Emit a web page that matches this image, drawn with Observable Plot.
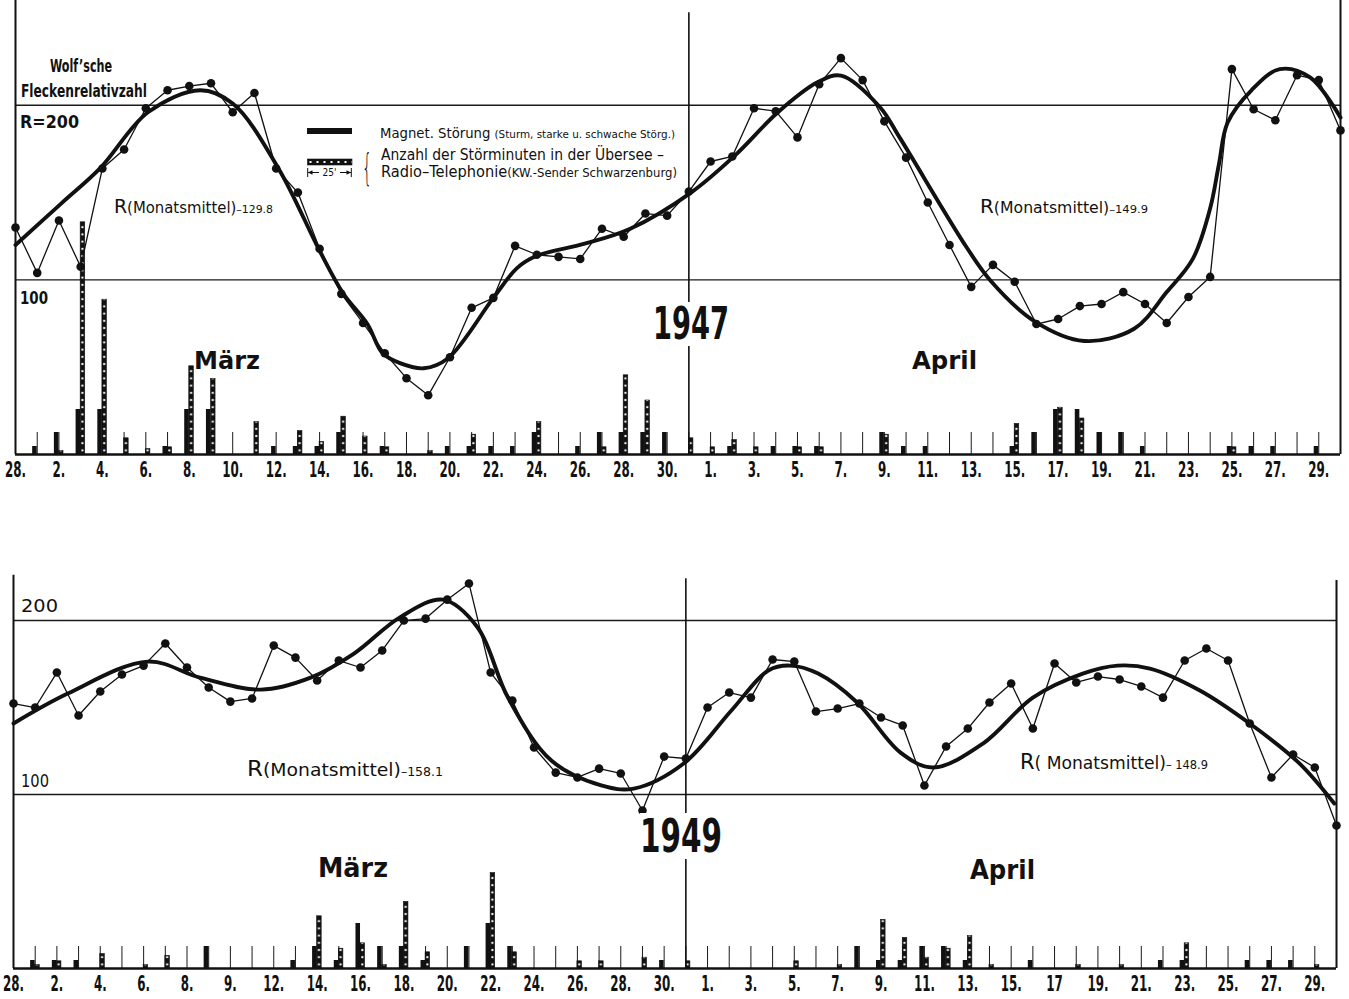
<!DOCTYPE html>
<html>
<head>
<meta charset="utf-8">
<script src="https://cdn.jsdelivr.net/npm/d3@7"></script>
<script src="https://cdn.jsdelivr.net/npm/@observablehq/plot@0.6"></script>
<style>
  html, body { margin:0; padding:0; background:#fff; }
  #page { position:relative; width:1349px; height:999px; overflow:hidden; background:#fff; color:#111;
          font-family:"DejaVu Sans Condensed","DejaVu Sans",sans-serif; }
  #page > svg { position:absolute; left:0; }
  .t { position:absolute; white-space:nowrap; line-height:1; transform-origin:0 0; color:#111; }
</style>
</head>
<body>
<div id="page"></div>
<script>
// ---------------- DATA ----------------
// day index: 0 = 28. Feb, 1..31 = 1..31 März, 32..61 = 1..30 April
const tickDays = [0,2,4,6,8,10,12,14,16,18,20,22,24,26,28,30,32,34,36,38,40,42,44,46,48,50,52,54,56,58,60];
const tickLabels1947 = ["28.","2.","4.","6.","8.","10.","12.","14.","16.","18.","20.","22.","24.","26.","28.","30.",
  "1.","3.","5.","7.","9.","11.","13.","15.","17.","19.","21.","23.","25.","27.","29."];
const tickLabels1949 = ["28.","2.","4.","6.","8.","9.","12.","14.","16.","18.","20.","22.","24.","26.","28.","30.",
  "1.","3.","5.","7.","9.","11.","13.","15.","17","19.","21.","23.","25.","27.","29."];

// Wolf'sche Fleckenrelativzahl, daily values 1947
const r1947 = [130,104,134,107.5,163.8,174.7,198.3,208.6,211,212.6,
  196,207,163.8,150,117.8,92,75.3,58,43.7,33.9,
  55.7,84,89.7,119.5,114.4,113.2,112,129.3,124.7,138,
  136.8,150.6,167.8,170.7,198.3,196.6,181.6,212,227,214.4,
  190.8,170,144.3,120,96,108.6,98.9,74.7,77.6,85,
  86.2,93,86.2,75.3,90.2,101.7,220.7,197.7,191.4,217.2,
  214.4,185.6];
// smoothed curve 1947 (read points)
const smoothDay1947 = [0,2.1,3.9,6.1,8.5,10.0,12.1,14.0,15.1,16.2,16.9,17.7,18.8,19.9,22.0,23.1,24.0,26.2,28.3,31.1,
  33.1,35.1,36.9,38.0,39.8,40.7,43.8,44.9,46.9,49.2,51.5,53.0,54.2,55.0,55.4,55.8,56.9,58.2,59.6,61];
const smoothR1947 = [120,143.7,164,196,208.6,201,164,116.7,92,74.7,58,52.3,49.4,55,89.7,106.9,113.8,120.7,129.3,150,
  171,196,213,217,198.9,181.6,118.4,99.4,76.4,65,72,93,112,141,166,190,208.6,220.7,216,193];
// magnetic disturbance: 0 none, 1 schwach, 2 stark, 3 Sturm
const mag1947 = [0,1,2,3,3,0,0,1,3,3, 0,0,1,1,1,2,0,1,0,0, 1,1,1,1,2,0,1,2,2,2,
  2,0,0,1,0,1,1,1,0,0, 2,1,1,0,0,0,1,2,3,3, 2,2,1,0,0,0,1,1,1,0, 1,0];
// Störminuten Übersee-Radio-Telephonie
const min1947 = [0,0,2,129,86,9,3,4,49,42, 0,18,0,13,7,21,10,4,0,2, 0,11,0,0,18,0,0,4,44,30,
  0,9,4,8,4,0,4,4,0,0, 11,0,0,0,0,0,17,0,26,20, 0,0,0,0,0,0,4,0,0,0, 0,0];

const r1949 = [152.3,150,170.1,145.4,159.2,169,174.1,186.8,173,161.5,
  153.4,155.2,185.6,178.7,165.5,177,173,182.8,200,201.1,
  212,221.3,170.1,154,127,112.6,109.8,114.9,112.1,90.8,
  121.8,120.7,150,158.6,155.7,177.6,176.4,147.7,149.4,152.3,
  144.3,139.7,105.2,127.6,137.9,152.9,163.8,137.9,175.3,164.4,
  167.8,166.1,162.1,155.7,177,183.9,177,140.8,109.8,123,
  115.5,82.2];
const smoothDay1949 = [0,2.5,6.2,8.6,11.4,13.7,15.7,17.8,19.8,21.4,22.8,24.8,27.1,28.6,30.9,33.1,34.8,35.8,37.1,38.9,
  40.9,42.4,44.7,47.0,49.3,50.9,52.4,54.7,57.0,59.3,60.9];
const smoothR1949 = [140.8,158,176.4,167.2,160.3,167.2,181,201.7,212,196,155.7,119.5,105.2,103.4,117.8,148.3,171.3,174.1,169.5,152.9,
  124.1,115.5,129.3,155.7,169.5,174.1,172.4,159.8,140.8,117.8,94.8];
const mag1949 = [0,1,1,1,0,0,0,0,0,2, 0,0,0,1,2,1,3,2,2,1, 0,2,3,2,0,0,0,0,0,0,
  1,0,0,0,0,0,0,0,0,2, 1,1,2,2,1,0,0,1,0,0, 0,0,0,1,1,0,0,1,1,1, 0,0];
const min1949 = [0,2,4,0,8,0,2,7,0,0, 0,0,0,0,29,11,14,2,37,9, 0,0,53,9,0,0,4,4,0,6,
  0,4,0,0,0,0,4,0,2,0, 27,17,6,11,18,2,0,0,0,2, 0,2,0,0,14,0,0,0,0,0, 2,0];

// ---------------- DRAWING ----------------
const page = document.getElementById("page");
const FONT = "DejaVu Sans Condensed, DejaVu Sans, sans-serif";
const magPx = [0, 8, 22, 45];     // bar heights for disturbance levels
const pxPerMinute = 1.8;          // 25' = 45 px
const tickPx = 22;
const bw = 0.21;                  // bar width in days
const NS = "http://www.w3.org/2000/svg";

function panel(o) {
  const days = o.r.map((v, i) => i);
  const rData = o.r.map((v, i) => ({day: i, r: v}));
  const sData = o.sDay.map((d, i) => ({day: d, r: o.sR[i]}));
  const magData = o.mag.map((v, i) => ({day: i, level: v})).filter(d => d.level > 0);
  const minData = o.min.map((v, i) => ({day: i, min: v})).filter(d => d.min > 0);
  const ppu = (o.height - o.mb) / o.ymax;
  const svg = Plot.plot({
    width: 1349, height: o.height,
    marginLeft: o.ml, marginRight: o.mr, marginTop: 0, marginBottom: o.mb,
    x: {domain: [0, 61]},
    y: {domain: [0, o.ymax], axis: null},
    style: {fontFamily: FONT, background: "transparent", color: "#111", overflow: "visible"},
    marks: [
      Plot.ruleY([100, 200], {x1: 0, x2: 61, stroke: "#1a1a1a", strokeWidth: 1.4}),
      Plot.ruleX(days, {y1: 0, y2: tickPx / ppu, stroke: "#1a1a1a", strokeWidth: 1}),
      Plot.rect(magData, {x1: d => d.day - bw, x2: d => d.day, y1: 0, y2: d => magPx[d.level] / ppu, fill: "#111"}),
      Plot.rect(minData, {x1: d => d.day, x2: d => d.day + bw, y1: 0, y2: d => d.min * pxPerMinute / ppu,
        fill: `url(#${o.id})`, stroke: "#111", strokeWidth: 0.6}),
      Plot.ruleX([0], {y1: 0, y2: o.leftTop, stroke: "#111", strokeWidth: 2}),
      Plot.ruleX([61], {y1: 0, y2: o.rightTop, stroke: "#111", strokeWidth: 2}),
      Plot.ruleX([31], {y1: 0, y2: o.divTop, stroke: "#111", strokeWidth: 1.6}),
      Plot.ruleY([0], {x1: 0, x2: 61, stroke: "#111", strokeWidth: 2.6}),
      Plot.line(sData, {x: "day", y: "r", curve: "catmull-rom", stroke: "#111", strokeWidth: 3.9}),
      Plot.line(rData, {x: "day", y: "r", stroke: "#111", strokeWidth: 1.3}),
      Plot.dot(rData, {x: "day", y: "r", r: 4.3, fill: "#111", stroke: "none"}),
      Plot.axisX(tickDays, {tickFormat: d => o.labels[tickDays.indexOf(d)], tickSize: 0, tickPadding: 8,
        fontSize: 21, fontWeight: "bold", label: null})
    ]
  });
  svg.style.top = o.top + "px";
  // dotted pattern for Störminuten bars
  const xs = svg.scale("x"), ys = svg.scale("y");
  const x0 = xs.apply(0), tw = xs.apply(1) - x0, y0 = ys.apply(0);
  const defs = document.createElementNS(NS, "defs");
  const pat = document.createElementNS(NS, "pattern");
  pat.setAttribute("id", o.id);
  pat.setAttribute("patternUnits", "userSpaceOnUse");
  pat.setAttribute("x", x0); pat.setAttribute("y", y0);
  pat.setAttribute("width", tw); pat.setAttribute("height", 7.2);
  const bg = document.createElementNS(NS, "rect");
  bg.setAttribute("width", tw); bg.setAttribute("height", 7.2); bg.setAttribute("fill", "#111");
  const sq = document.createElementNS(NS, "rect");
  sq.setAttribute("x", 1.3); sq.setAttribute("y", 2.6); sq.setAttribute("width", 2); sq.setAttribute("height", 2);
  sq.setAttribute("fill", "#fff");
  pat.appendChild(bg); pat.appendChild(sq); defs.appendChild(pat);
  svg.insertBefore(defs, svg.firstChild);
  page.appendChild(svg);
  // tick labels: larger, bold, condensed
  const labs = svg.querySelectorAll('g[aria-label="x-axis tick label"] text');
  labs.forEach(t => {
    t.style.fontSize = "21px";
    t.style.fontWeight = "bold";
    t.style.fontFamily = FONT;
  });
  if (labs.length) {
    const k = 21 / labs[0].getComputedTextLength();
    labs.forEach(t => {
      t.setAttribute("textLength", t.getComputedTextLength() * k);
      t.setAttribute("lengthAdjust", "spacingAndGlyphs");
    });
  }
  return svg;
}

panel({id: "dots47", r: r1947, sDay: smoothDay1947, sR: smoothR1947, mag: mag1947, min: min1947,
  labels: tickLabels1947, top: 0, height: 490, mb: 36, ml: 15, mr: 9, ymax: 260,
  leftTop: 260, rightTop: 260, divTop: 253});
panel({id: "dots49", r: r1949, sDay: smoothDay1949, sR: smoothR1949, mag: mag1949, min: min1949,
  labels: tickLabels1949, top: 560, height: 439, mb: 31, ml: 13, mr: 13, ymax: 234.5,
  leftTop: 226, rightTop: 223, divTop: 224});

// ---------------- TEXT ----------------
function txt(html, o) {
  const el = document.createElement("div");
  el.className = "t";
  el.innerHTML = html;
  el.style.fontSize = o.size + "px";
  el.style.fontWeight = o.weight || "normal";
  if (o.family) el.style.fontFamily = o.family;
  el.style.top = (o.base - 0.846 * o.size) + "px";
  el.style.left = o.left + "px";
  if (o.bg) { el.style.background = "#fff"; }
  page.appendChild(el);
  if (o.width) {
    const w = el.getBoundingClientRect().width;
    el.style.transform = `scaleX(${o.width / w})`;
  }
  return el;
}
const s = (t, px) => `<span style="font-size:${px}px">${t}</span>`;

// top panel
txt("Wolf’sche", {left: 50, base: 72, size: 17, weight: "bold", width: 62});
txt("Fleckenrelativzahl", {left: 21, base: 97, size: 17, weight: "bold", width: 126});
txt("R=200", {left: 20, base: 128, size: 18, weight: "bold", width: 59});
txt("100", {left: 20, base: 304, size: 18, weight: "bold", width: 28});
txt("R" + s("(Monatsmittel)", 15) + s("–129.8", 11), {left: 114, base: 213, size: 19, width: 159});
txt("R" + s("(Monatsmittel)", 15) + s("–149.9", 11), {left: 980, base: 213, size: 19, width: 168});
txt("März", {left: 194, base: 369, size: 25, weight: "bold", width: 66, family: "DejaVu Sans, sans-serif"});
txt("April", {left: 912, base: 369, size: 25, weight: "bold", width: 65, family: "DejaVu Sans, sans-serif"});
txt("1947", {left: 653, base: 339, size: 44, weight: "bold", width: 76, bg: true});

// legend
const lg = document.createElement("div");
lg.innerHTML = `<div style="position:absolute;left:307px;top:128px;width:45px;height:6px;background:#111"></div>
<svg width="46" height="22" style="position:absolute;left:307px;top:158px;overflow:visible">
<defs><pattern id="ldots" patternUnits="userSpaceOnUse" width="7" height="7"><rect width="7" height="7" fill="#111"/><rect x="2.5" y="3" width="2" height="2" fill="#fff"/></pattern></defs>
<rect x="0.5" y="1" width="44.5" height="6" fill="url(#ldots)" stroke="#111" stroke-width="0.6"/>
<path d="M0.7 10V19M44.3 10V19M1 14.5H12M33 14.5H44" stroke="#111" stroke-width="1" fill="none"/>
<path d="M1 14.5l4.5-2.3v4.6zM44 14.5l-4.5-2.3v4.6z" fill="#111"/>
<text x="22.5" y="18" text-anchor="middle" font-size="10" font-family="${FONT}" fill="#111">25'</text>
</svg>`;
while (lg.firstChild) page.appendChild(lg.firstChild);
txt("{", {left: 362, base: 180, size: 38, weight: "300", width: 10, family: "DejaVu Sans, sans-serif"});
txt("Magnet. Störung " + s("(Sturm, starke u. schwache Störg.)", 11), {left: 380, base: 138, size: 14, width: 295});
txt("Anzahl der Störminuten in der Übersee –", {left: 381, base: 161, size: 15, width: 283});
txt("Radio–Telephonie" + s("(KW.-Sender Schwarzenburg)", 12), {left: 381, base: 178, size: 15, width: 296});

// bottom panel
txt("200", {left: 21, base: 612, size: 17, width: 37});
txt("100", {left: 21, base: 787, size: 17, width: 28});
txt("R" + s("(Monatsmittel)", 18) + s("–158.1", 12), {left: 247, base: 777, size: 22, width: 196});
txt("R" + s("( Monatsmittel)", 18) + s("– 148.9", 12), {left: 1020, base: 770, size: 22, width: 188});
txt("1949", {left: 640, base: 852, size: 46, weight: "bold", width: 82, bg: true});
txt("März", {left: 318, base: 877, size: 27, weight: "bold", width: 70, family: "DejaVu Sans, sans-serif"});
txt("April", {left: 970, base: 879, size: 26, weight: "bold", width: 65, family: "DejaVu Sans, sans-serif"});
</script>
</body>
</html>
